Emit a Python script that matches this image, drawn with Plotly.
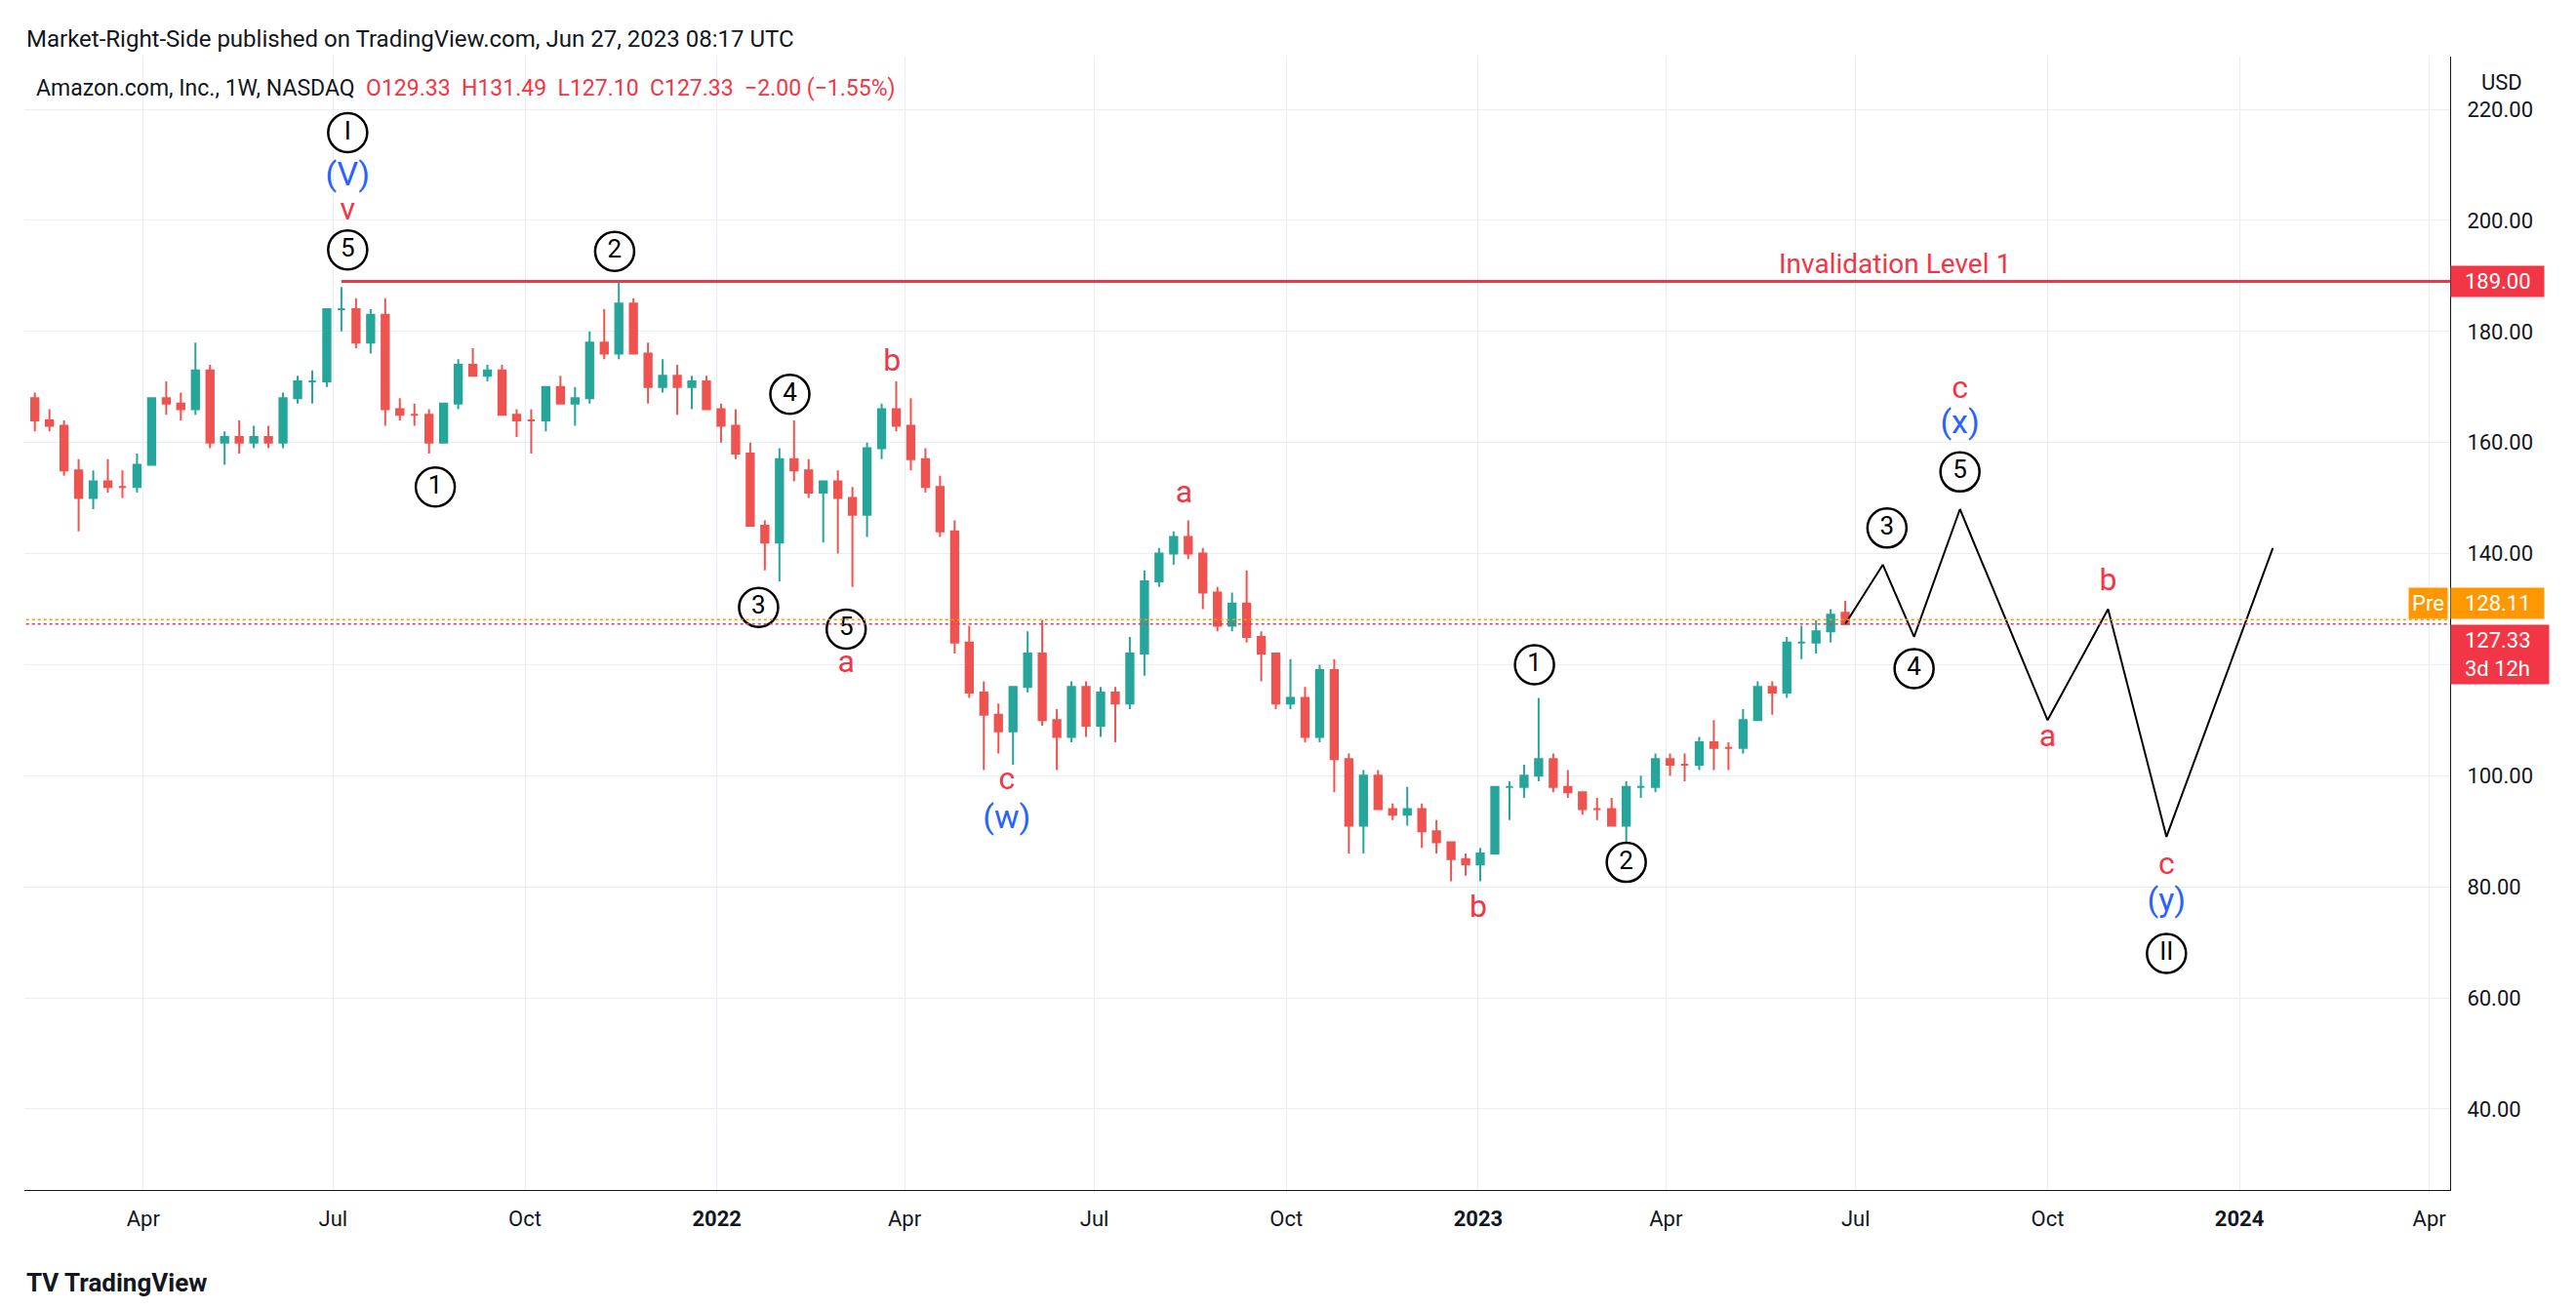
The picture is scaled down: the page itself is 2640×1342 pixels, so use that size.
import plotly.graph_objects as go
import pandas as pd

opens = [168,164,163,155,150,153,152,152,156,168,167,166,173,160,161,160,161,160,168,171,171,184,184,178,183,166,165,165,160,167,174,172,173,165,164,164,170,167,168,178,176,185,176,170,172,170,171,
         166,163,158,145,142,157,155,151,153,150,147,159,166,163,157,152,144,124,115,111,108,116,122,110,107,116,109,115,113,122,135,140,143,140,133,127,131,125,122,113,114,107,119,103,91,100,94,93,94,90,88,85,
         84,86,98,98,100,103,98,97,94,94,91,98,98,103,102,102,106,105,105,110,116,115,124,124,126,129.33]
highs = [169,166,164,157,155,157,155,158,168,171,169,178,174,162,164,163,163,169,172,173,184,188,186,184,186,168,167,166,166,175,177,174,174,166,166,170,172,170,180,184,189,186,178,175,174,172,172,
         167,166,160,146,159,164,157,153,155,152,160,167,171,168,159,154,146,127,117,113,116,126,128,112,117,117,116,116,125,137,141,144,146,141,134,133,137,126,122,121,116,120,121,104,101,101,95,98,95,92,88,86,
         87,98,99,102,114,104,101,97,96,96,99,100,104,104,104,107,110,106,112,117,117,125,127,128,130,131.49]
lows = [162,162,154,144,148,151,150,151,156,165,164,165,159,156,158,159,159,159,167,167,170,180,177,176,163,164,163,158,160,166,172,171,165,161,158,162,167,163,167,175,175,176,167,169,165,166,166,
        160,157,145,137,135,153,150,142,140,134,143,157,162,155,151,143,122,114,101,104,102,115,109,101,106,107,107,106,112,118,134,138,139,130,126,126,124,117,112,112,106,106,97,86,86,94,92,91,87,86,81,82,
        81,86,92,96,99,97,96,93,92,91,88,96,97,100,99,101,101,101,104,110,111,114,121,122,124,127.10]
closes = [164,163,155,150,153,152,152,156,168,167,166,173,160,161,160,161,160,168,171,171,184,184,178,183,166,165,165,160,167,174,172,173,165,164,164,170,167,168,178,176,185,176,170,172,170,171,166,
          163,158,145,142,157,155,151,153,150,147,159,166,163,157,152,144,124,115,111,108,116,122,110,107,116,109,115,113,122,135,140,143,140,133,127,131,125,122,113,114,107,119,103,91,100,94,93,94,90,88,85,84,
          86,98,98,100,103,98,97,94,94,91,98,98,103,102,102,106,105,105,110,116,115,124,124,126,129,127.33]
dates = pd.date_range("2021-02-08", periods=len(closes), freq="7D")

proj_dates = ["2023-06-26", "2023-07-14", "2023-07-29", "2023-08-20", "2023-10-01", "2023-10-30", "2023-11-27", "2024-01-17"]
proj_prices = [127.33, 138, 125, 148, 110, 130, 89, 141]

circ_labels = ["I", "5", "2", "1", "3", "4", "5", "1", "2", "3", "4", "5", "II"]
circ_dates = ["2021-07-08", "2021-07-08", "2021-11-13", "2021-08-19", "2022-01-21", "2022-02-05", "2022-03-04",
              "2023-01-28", "2023-03-13", "2023-07-16", "2023-07-29", "2023-08-20", "2023-11-27"]
circ_prices = [215.8, 194.7, 194.4, 152, 130.3, 168.7, 126.4, 120, 84.4, 144.6, 119.3, 154.7, 68]

red_labels = ["v", "a", "b", "c", "a", "b", "c", "a", "b", "c"]
red_dates = ["2021-07-08", "2022-03-04", "2022-03-26", "2022-05-20", "2022-08-13", "2023-01-01", "2023-08-20", "2023-10-01", "2023-10-30", "2023-11-27"]
red_prices = [201.5, 120, 174.4, 99, 150.6, 76, 169.5, 106.7, 134.8, 83.8]

blue_labels = ["(V)", "(w)", "(x)", "(y)"]
blue_dates = ["2021-07-08", "2022-05-20", "2023-08-20", "2023-11-27"]
blue_prices = [207.8, 92, 163.2, 77.2]

invalidation = 189.0
pre_price = 128.11
last_price = 127.33

GREEN, RED = "#26a69a", "#ef5350"
F = "Roboto"
fig = go.Figure()
fig.add_trace(go.Candlestick(x=dates, open=opens, high=highs, low=lows, close=closes,
                             increasing=dict(line=dict(color=GREEN, width=2), fillcolor=GREEN),
                             decreasing=dict(line=dict(color=RED, width=2), fillcolor=RED),
                             whiskerwidth=0, showlegend=False, hoverinfo="skip"))
fig.add_trace(go.Scatter(x=proj_dates, y=proj_prices, mode="lines", line=dict(color="#000", width=2), showlegend=False))
fig.add_trace(go.Scatter(x=circ_dates, y=circ_prices, mode="markers+text", text=circ_labels,
                         marker=dict(symbol="circle", size=40, color="white", line=dict(color="#000", width=2.5)),
                         textfont=dict(family=F, size=26, color="#000"), textposition="middle center", showlegend=False))
fig.add_trace(go.Scatter(x=red_dates, y=red_prices, mode="text", text=red_labels,
                         textfont=dict(family=F, size=32, color="#f23645"), showlegend=False))
fig.add_trace(go.Scatter(x=blue_dates, y=blue_prices, mode="text", text=blue_labels,
                         textfont=dict(family=F, size=34, color="#2962ff"), showlegend=False))

fig.add_shape(type="line", x0="2021-07-05", x1="2024-04-11", y0=invalidation, y1=invalidation, line=dict(color="#f23645", width=3))
fig.add_shape(type="line", x0="2021-02-01", x1="2024-04-11", y0=pre_price, y1=pre_price, line=dict(color="#ff9800", width=1.5, dash="dot"))
fig.add_shape(type="line", x0="2021-02-01", x1="2024-04-11", y0=last_price, y1=last_price, line=dict(color="#f23645", width=1.5, dash="dot"))

fig.add_annotation(x="2023-07-20", y=invalidation, text="Invalidation Level 1", showarrow=False, yanchor="bottom",
                   font=dict(family=F, size=28, color="#f23645"))

def rlabel(y, text, bg, yshift=0):
    fig.add_annotation(xref="paper", x=1.0, y=y, yref="y", text=text, showarrow=False, xanchor="left",
                       bgcolor=bg, font=dict(family=F, size=22, color="white"), align="left", yshift=yshift,
                       borderpad=3)

rlabel(invalidation, "  189.00  ", "#f23645")
fig.add_annotation(xref="paper", x=0.999, y=pre_price, text="Pre", showarrow=False, xanchor="right", yshift=17,
                   bgcolor="#ff9800", font=dict(family=F, size=22, color="white"), borderpad=3)
rlabel(pre_price, "  128.11  ", "#ff9800", yshift=17)
rlabel(last_price, "  127.33  <br>  3d 12h   ", "#f23645", yshift=-31)

fig.add_annotation(xref="paper", yref="paper", x=0.0, y=1.0, xanchor="left", yanchor="middle", yshift=18, showarrow=False,
                   text="Market-Right-Side published on TradingView.com, Jun 27, 2023 08:17 UTC",
                   font=dict(family=F, size=24, color="#131722"))
fig.add_annotation(xref="paper", yref="paper", x=0.004, y=0.985, xanchor="left", yanchor="top", showarrow=False,
                   text="Amazon.com, Inc., 1W, NASDAQ  <span style='color:#f23645'>O129.33  H131.49  L127.10  C127.33  −2.00 (−1.55%)</span>",
                   font=dict(family=F, size=23, color="#131722"))
fig.add_annotation(xref="paper", yref="paper", x=1.012, y=0.99, xanchor="left", yanchor="top", showarrow=False,
                   text="USD", font=dict(family=F, size=22, color="#131722"))
fig.add_annotation(xref="paper", yref="paper", x=0.0, y=0.0, xanchor="left", yanchor="middle", yshift=-95, showarrow=False,
                   text="<b>TV TradingView</b>", font=dict(family=F, size=26, color="#131722"))

fig.update_layout(width=2640, height=1342, plot_bgcolor="white", paper_bgcolor="white",
                  margin=dict(l=17, r=137, t=50, b=130),
                  xaxis=dict(range=["2021-02-03", "2024-04-11"], rangeslider=dict(visible=False), showgrid=True,
                             gridcolor="#e8eef5",
                             tickfont=dict(family=F, size=22, color="#131722"), showline=True, linecolor="#131722",
                             ticks="", ticklabelstandoff=10),
                  yaxis=dict(range=[25.4, 229.5], side="right", dtick=20, tickformat=".2f", showgrid=True,
                             gridcolor="#e8eef5", tickfont=dict(family=F, size=22, color="#131722"),
                             showline=True, linecolor="#131722", zeroline=False, ticks="", ticklabelstandoff=12))
fig.update_xaxes(ticktext=["Apr", "Jul", "Oct", "<b>2022</b>", "Apr", "Jul", "Oct", "<b>2023</b>", "Apr", "Jul", "Oct", "<b>2024</b>", "Apr"],
                 tickvals=["2021-04-01", "2021-07-01", "2021-10-01", "2022-01-01", "2022-04-01", "2022-07-01", "2022-10-01",
                           "2023-01-01", "2023-04-01", "2023-07-01", "2023-10-01", "2024-01-01", "2024-04-01"])
fig.write_html("out.html")
